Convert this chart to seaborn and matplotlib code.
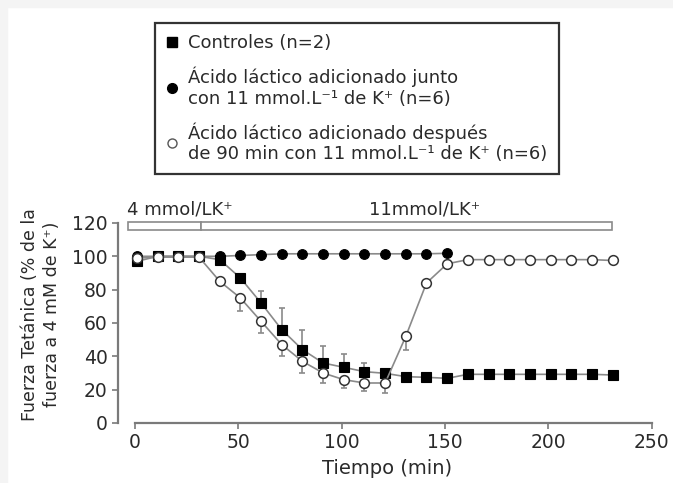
import matplotlib
matplotlib.use("Agg")
import matplotlib.pyplot as plt
from matplotlib.patches import Rectangle
from matplotlib.lines import Line2D
import seaborn as sns
import numpy as np

# ---------------- data ----------------
tiempo = [1, 11, 21, 31, 41, 51, 61, 71, 81, 91, 101, 111, 121, 131, 141, 151,
          161, 171, 181, 191, 201, 211, 221, 231]

controles = [97, 100, 100, 100, 98, 87, 72, 56, 44, 36, 33.4, 30.8, 29.8, 27.8,
             27.4, 26.8, 29.2, 29.2, 29.2, 29.2, 29.2, 29.2, 29.2, 28.8]
controles_err = [0, 0, 0, 0, 0, 2, 7, 13, 12, 10, 8, 5, 2, 1.5, 1.5, 1.5,
                 1.5, 1.5, 1.5, 1.5, 1.5, 1.5, 1.5, 1.5]

tiempo_junto = tiempo[:16]
junto = [100, 100, 100, 100, 100, 100.5, 101, 101.5, 101.5, 101.5, 101.5, 101.5,
         101.5, 101.5, 101.5, 101.8]

despues = [99, 99.5, 99.5, 99.5, 85, 75, 61, 47, 37, 30, 26, 24, 24, 52, 84, 95.5,
           98, 98, 98, 98, 98, 98, 98, 97.5]
despues_err = [0, 0, 0, 0, 0, 8, 7, 7, 7, 6, 5, 5, 6, 8, 0, 0,
               0, 0, 0, 0, 0, 0, 0, 0]

periodos = [(-3.5, 32.0), (32.0, 230.5)]
periodo_labels = ["4 mmol/LK⁺", "11mmol/LK⁺"]
periodo_label_x = [-4, 140]

labels = ["Controles (n=2)",
          "Ácido láctico adicionado junto\ncon 11 mmol.L⁻¹ de K⁺ (n=6)",
          "Ácido láctico adicionado después\nde 90 min con 11 mmol.L⁻¹ de K⁺ (n=6)"]

xticks = [0, 50, 100, 150, 200, 250]
yticks = [0, 20, 40, 60, 80, 100, 120]

# ---------------- style ----------------
sns.set_theme(style="ticks")
plt.rcParams["font.family"] = ["DejaVu Sans"]

W, H = 673, 483
fig = plt.figure(figsize=(W / 100, H / 100), dpi=100)
fig.patch.set_facecolor("white")
# light gray edge strips (top and left)
fig.patches.append(Rectangle((0, 1 - 7 / H), 1, 7 / H, transform=fig.transFigure,
                             color="#f4f4f4", zorder=0))
fig.patches.append(Rectangle((0, 0), 7 / W, 1, transform=fig.transFigure,
                             color="#f4f4f4", zorder=0))

ax_left, ax_right = 118 / W, 656 / W
ax_bottom, ax_top = 1 - 423 / H, 1 - 206.3 / H
ax = fig.add_axes([ax_left, ax_bottom, ax_right - ax_left, ax_top - ax_bottom])
ax.set_facecolor("none")

line_col = "#8a8a8a"
spine_col = "#7a7a7a"
text_col = "#2a2a2a"

# error bars (one-sided)
ax.errorbar(tiempo, controles, yerr=[np.zeros(len(controles)), controles_err],
            fmt="none", ecolor=line_col, elinewidth=1.2, capsize=2.5, capthick=1.2, zorder=2)
ax.errorbar(tiempo, despues, yerr=[despues_err, np.zeros(len(despues))],
            fmt="none", ecolor=line_col, elinewidth=1.2, capsize=2.5, capthick=1.2, zorder=2)

ms = 7.0
sns.lineplot(x=tiempo_junto, y=junto, ax=ax, color=line_col, linewidth=1.2,
             marker="o", markersize=ms, markerfacecolor="black",
             markeredgecolor="black", markeredgewidth=0.8, zorder=3)
sns.lineplot(x=tiempo, y=controles, ax=ax, color=line_col, linewidth=1.2,
             marker="s", markersize=ms, markerfacecolor="black",
             markeredgecolor="black", markeredgewidth=0.8, zorder=4)
sns.lineplot(x=tiempo, y=despues, ax=ax, color=line_col, linewidth=1.2,
             marker="o", markersize=ms, markerfacecolor="white",
             markeredgecolor="#333333", markeredgewidth=1.1, zorder=5)

# condition bar
for (a, b) in periodos:
    ax.add_patch(Rectangle((a, 116), b - a, 4.6, facecolor="white",
                           edgecolor=line_col, linewidth=1.2, clip_on=False, zorder=6))
for lab, lx in zip(periodo_labels, periodo_label_x):
    ha = "left" if lx < 0 else "center"
    ax.text(lx, 127.8, lab, ha=ha, va="center", fontsize=13, color=text_col)

ax.set_xlim(-8.2, 252)
ax.set_ylim(0, 130)
ax.set_xticks(xticks)
ax.set_yticks(yticks)
ax.tick_params(axis="both", labelsize=13.5, colors=spine_col, labelcolor=text_col,
               length=4, width=1.2)
for s in ["top", "right"]:
    ax.spines[s].set_visible(False)
for s in ["left", "bottom"]:
    ax.spines[s].set_color(spine_col)
    ax.spines[s].set_linewidth(1.6)
ax.spines["left"].set_bounds(0, 120)
ax.spines["bottom"].set_bounds(0, 250)

ax.set_xlabel("Tiempo (min)", fontsize=14, color=text_col, labelpad=5)
ax.set_ylabel("Fuerza Tetánica (% de la\nfuerza a 4 mM de K⁺)", fontsize=12.5,
              color=text_col, labelpad=8, linespacing=1.3)

# legend
handles = [
    Line2D([], [], linestyle="none", marker="s", markersize=7, markerfacecolor="black",
           markeredgecolor="black"),
    Line2D([], [], linestyle="none", marker="o", markersize=7, markerfacecolor="black",
           markeredgecolor="black"),
    Line2D([], [], linestyle="none", marker="o", markersize=6.5, markerfacecolor="white",
           markeredgecolor="#555555", markeredgewidth=1.0),
]
x0, x1 = 155 / W, 559 / W
y1, y0 = 1 - 23 / H, 1 - 172 / H
leg = fig.legend(handles, labels, loc="upper left",
                 bbox_to_anchor=(x0, y0, x1 - x0, y1 - y0), bbox_transform=fig.transFigure,
                 mode="expand", frameon=True, fancybox=False, framealpha=1,
                 edgecolor="#333333", fontsize=13, labelspacing=0.8,
                 handlelength=0.7, handletextpad=0.5, borderpad=0.6, borderaxespad=0)
leg.get_frame().set_linewidth(1.6)
for t in leg.get_texts():
    t.set_color(text_col)
    t.set_linespacing(1.2)

fig.savefig("out.png", dpi=100)
